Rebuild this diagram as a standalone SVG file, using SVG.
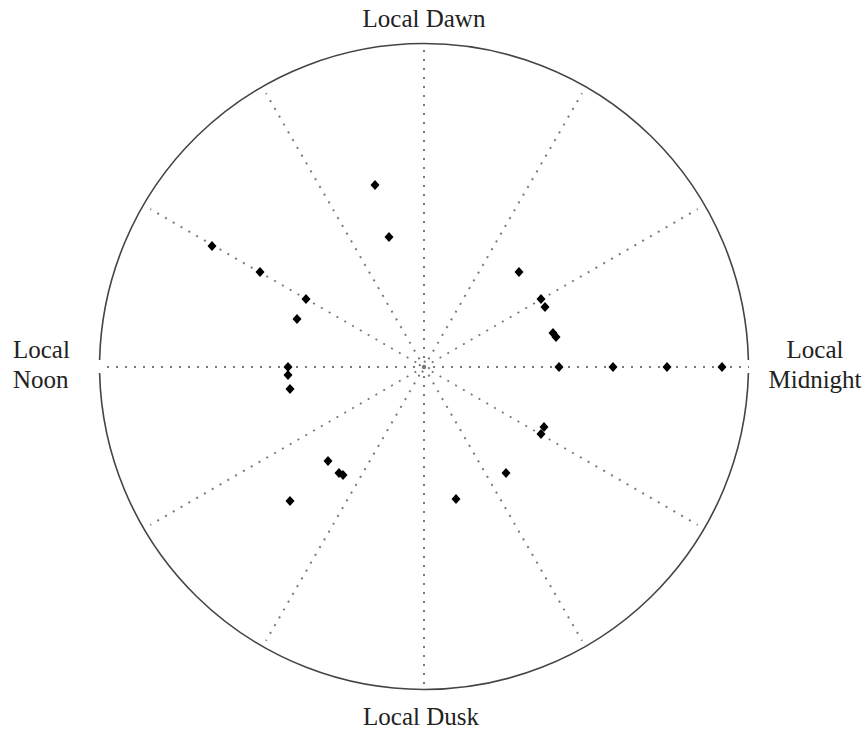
<svg xmlns="http://www.w3.org/2000/svg" width="863" height="729" viewBox="0 0 863 729">
<style>
.lbl{font-family:"Liberation Serif","Times New Roman",serif;font-size:25px;fill:#222}
.rim{fill:none;stroke:#444;stroke-width:1.6}
.grid{stroke:#7a7a7a;stroke-width:2;stroke-dasharray:2 7;fill:none}
.pt{fill:#000}
</style>
<defs>
<path id="d" d="M0,-5 L4.5,0 L0,5 L-4.5,0 Z"/>
</defs>
<rect width="863" height="729" fill="#fff"/>
<g id="rim">
<path class="rim" d="M99.6,360 A324.5,324.5 0 0 1 748.4,360"/>
<path class="rim" d="M748.4,373 A324.5,324.5 0 0 1 99.6,373"/>
</g>
<g id="connectors">
<line class="grid" x1="424" y1="367" x2="424" y2="43"/>
<line class="grid" x1="424" y1="367" x2="424" y2="690"/>
<line class="grid" x1="424" y1="367" x2="100" y2="367"/>
<line class="grid" x1="424" y1="367" x2="749" y2="367"/>
<line class="grid" x1="424" y1="367" x2="582" y2="93.3"/>
<line class="grid" x1="424" y1="367" x2="697.7" y2="209"/>
<line class="grid" x1="424" y1="367" x2="697.7" y2="525"/>
<line class="grid" x1="424" y1="367" x2="582" y2="640.7"/>
<line class="grid" x1="424" y1="367" x2="266" y2="640.7"/>
<line class="grid" x1="424" y1="367" x2="150.3" y2="525"/>
<line class="grid" x1="424" y1="367" x2="150.3" y2="209"/>
<line class="grid" x1="424" y1="367" x2="266" y2="93.3"/>
<path class="grid" stroke-dasharray="2 3" d="M424,361 L430,367 L424,373 L418,367 Z"/>
</g>
<g id="points" class="pt">
<use href="#d" x="375" y="185"/>
<use href="#d" x="389" y="237"/>
<use href="#d" x="212" y="246"/>
<use href="#d" x="260" y="272"/>
<use href="#d" x="306" y="299"/>
<use href="#d" x="297" y="319"/>
<use href="#d" x="288" y="367"/>
<use href="#d" x="288" y="375"/>
<use href="#d" x="290" y="389"/>
<use href="#d" x="519" y="272"/>
<use href="#d" x="541" y="299"/>
<use href="#d" x="545" y="307"/>
<use href="#d" x="553" y="333"/>
<use href="#d" x="556" y="337"/>
<use href="#d" x="559" y="367"/>
<use href="#d" x="613" y="367"/>
<use href="#d" x="667" y="367"/>
<use href="#d" x="722" y="367"/>
<use href="#d" x="544" y="427"/>
<use href="#d" x="541" y="434"/>
<use href="#d" x="328" y="461"/>
<use href="#d" x="339" y="473"/>
<use href="#d" x="343" y="475"/>
<use href="#d" x="290" y="501"/>
<use href="#d" x="456" y="499"/>
<use href="#d" x="506" y="473"/>
</g>
<g id="labels">
<text class="lbl" x="424" y="27" text-anchor="middle">Local Dawn</text>
<text class="lbl" x="421" y="725" text-anchor="middle">Local Dusk</text>
<text class="lbl" x="13" y="358">Local</text>
<text class="lbl" x="13" y="388">Noon</text>
<text class="lbl" x="815" y="358" text-anchor="middle">Local</text>
<text class="lbl" x="815" y="388" text-anchor="middle">Midnight</text>
</g>
</svg>
